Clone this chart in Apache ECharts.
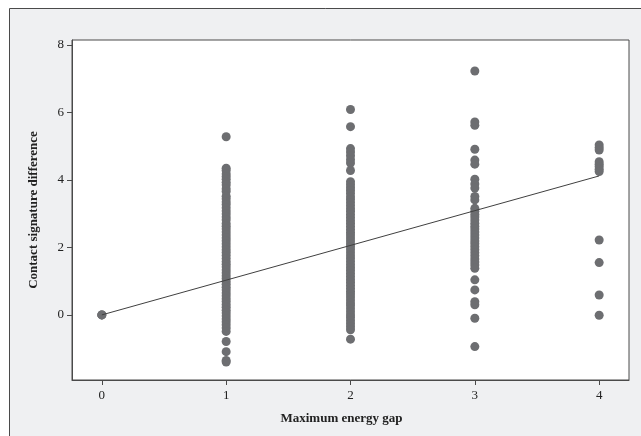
<!DOCTYPE html>
<html>
<head>
<meta charset="utf-8">
<script src="https://cdn.jsdelivr.net/npm/echarts@6/dist/echarts.min.js"></script>
<style>
html,body{margin:0;padding:0;background:#ffffff;}
#chart{width:641px;height:436px;}
</style>
</head>
<body>
<div id="chart"></div>
<script>
// Categories (x positions: maximum energy gap)
const gapCategories = [0, 1, 2, 3, 4];

// Contact signature difference values for each gap
const gap0Values = [0, 0, 0];
const gap1Values = [5.28, 4.35, 4.28, 4.18, 4.1, 4.02, 3.93, 3.85, 3.74, 3.66, 3.52, 3.44, 3.35, 3.27, 3.18, 3.08, 2.99, 2.9, 2.82, 2.71, 2.63, 2.55, 2.46, 2.37, 2.28, 2.2, 2.11, 2.02, 1.93, 1.85, 1.76, 1.67, 1.58, 1.5, 1.42, 1.33, 1.25, 1.16, 1.08, 0.99, 0.91, 0.82, 0.74, 0.65, 0.57, 0.48, 0.4, 0.31, 0.23, 0.14, 0.06, -0.03, -0.12, -0.2, -0.29, -0.39, -0.49, -0.79, -1.09, -1.35, -1.4];
const gap2Values = [6.09, 5.58, 4.93, 4.83, 4.72, 4.6, 4.5, 4.28, 3.95, 3.86, 3.77, 3.69, 3.6, 3.5, 3.42, 3.33, 3.24, 3.15, 3.07, 2.98, 2.89, 2.8, 2.72, 2.63, 2.54, 2.45, 2.37, 2.28, 2.19, 2.1, 2.02, 1.93, 1.84, 1.75, 1.67, 1.58, 1.49, 1.4, 1.32, 1.23, 1.14, 1.05, 0.97, 0.88, 0.79, 0.7, 0.62, 0.53, 0.44, 0.35, 0.27, 0.18, 0.09, 0.0, -0.08, -0.17, -0.26, -0.35, -0.44, -0.72];
const gap3Values = [7.23, 5.72, 5.62, 4.91, 4.59, 4.47, 4.02, 3.88, 3.76, 3.51, 3.41, 3.16, 3.07, 2.98, 2.9, 2.81, 2.72, 2.63, 2.55, 2.46, 2.37, 2.28, 2.19, 2.11, 2.02, 1.93, 1.84, 1.75, 1.66, 1.57, 1.48, 1.38, 1.04, 0.74, 0.39, 0.3, -0.1, -0.94];
const gap4Values = [5.04, 4.96, 4.89, 4.54, 4.47, 4.4, 4.32, 4.25, 2.22, 1.55, 0.59, -0.01];

// Fitted regression line endpoints
const fitX = [0, 4];
const fitY = [0, 4.12];

// Tick labels
const xTicks = [0, 1, 2, 3, 4];
const yTicks = [0, 2, 4, 6, 8];

const allGroups = [gap0Values, gap1Values, gap2Values, gap3Values, gap4Values];
const scatterData = [];
allGroups.forEach((vals, i) => {
  vals.forEach(v => scatterData.push([gapCategories[i], v]));
});
const lineData = fitX.map((x, i) => [x, fitY[i]]);

const FONT = '"Liberation Serif", "DejaVu Serif", serif';
const chart = echarts.init(document.getElementById('chart'), null, {renderer: 'canvas'});
chart.setOption({
  animation: false,
  backgroundColor: '#ffffff',
  graphic: [{
    type: 'rect',
    z: -10,
    shape: {x: 9.5, y: 8.5, width: 640, height: 440},
    style: {fill: '#eff0f2', stroke: '#4a4a4a', lineWidth: 1}
  }],
  grid: {
    left: 72, top: 40, right: 12, bottom: 56,
    show: true, backgroundColor: '#ffffff', borderColor: '#4a4a4a', borderWidth: 1
  },
  xAxis: {
    type: 'value', min: -0.24, max: 4.24,
    name: 'Maximum energy gap', nameLocation: 'middle', nameGap: 32,
    nameTextStyle: {fontFamily: FONT, fontWeight: 'bold', fontSize: 13, color: '#222', padding: [0, 18, 0, 0]},
    axisLine: {show: true, onZero: false, lineStyle: {color: '#4a4a4a'}},
    axisTick: {show: true, length: 5, customValues: xTicks, lineStyle: {color: '#4a4a4a'}},
    axisLabel: {customValues: xTicks, fontFamily: FONT, fontSize: 13, color: '#222', margin: 9},
    splitLine: {show: false}
  },
  yAxis: {
    type: 'value', min: -1.93, max: 8.15,
    name: 'Contact signature difference', nameLocation: 'middle', nameGap: 32,
    nameTextStyle: {fontFamily: FONT, fontWeight: 'bold', fontSize: 13, color: '#222'},
    axisLine: {show: true, onZero: false, lineStyle: {color: '#4a4a4a'}},
    axisTick: {show: true, length: 5, customValues: yTicks, lineStyle: {color: '#4a4a4a'}},
    axisLabel: {customValues: yTicks, fontFamily: FONT, fontSize: 13, color: '#222', margin: 8},
    splitLine: {show: false}
  },
  series: [{
    type: 'scatter',
    data: scatterData,
    symbol: 'circle',
    symbolSize: 9,
    itemStyle: {color: '#6d6e71', opacity: 1},
    z: 2
  }, {
    type: 'line',
    data: lineData,
    symbol: 'none',
    lineStyle: {color: '#404040', width: 1},
    z: 3
  }]
});
</script>
</body>
</html>
